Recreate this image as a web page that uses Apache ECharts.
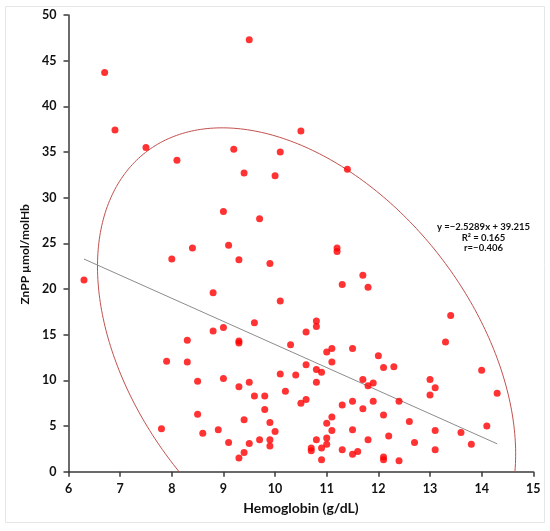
<!DOCTYPE html>
<html>
<head>
<meta charset="utf-8">
<script src="https://cdn.jsdelivr.net/npm/echarts@6/dist/echarts.min.js"></script>
<style>
  html, body { margin: 0; padding: 0; background: #fff; }
  #chart { width: 550px; height: 531px; }
</style>
</head>
<body>
<div id="chart"></div>
<script>
// hemoglobin (g/dL) and ZnPP (µmol/molHb), one entry per subject
const hemoglobin = [
  9.5, 6.7, 6.9, 7.5, 8.1, 9.2, 9.4, 10.0, 10.1, 9.0, 9.7, 8.4, 9.1, 8.0, 9.3,
  10.5, 11.4, 11.2, 11.2, 6.3, 9.9, 8.8, 10.1, 9.6, 8.8, 9.0, 8.3, 9.3, 9.3,
  7.9, 8.3, 10.1, 8.5, 9.0, 9.3, 9.5, 9.6, 9.8, 9.8, 9.4, 9.9, 10.0, 7.8, 8.6,
  8.9, 9.1, 9.5, 9.7, 9.9, 9.9, 9.4, 9.3, 8.5,
  11.7, 11.3, 11.8, 13.4, 10.8, 10.8, 10.6, 13.3, 10.3, 11.0, 11.1, 11.5, 12.0,
  10.6, 11.1, 10.8, 10.9, 10.4, 12.1, 12.3, 14.0, 10.8, 11.7, 11.8, 11.9, 13.0,
  13.1, 13.0, 14.3, 10.2, 10.6, 10.5, 11.3, 11.5, 11.9, 12.4, 11.7, 12.1, 11.1,
  11.0, 12.6, 14.1, 11.1, 11.5, 13.1, 13.6, 10.8, 11.0, 11.0, 10.9, 10.7, 10.7,
  11.8, 12.2, 12.7, 13.8, 11.3, 13.1, 11.6, 11.5, 12.1, 12.1, 10.9, 12.4
];
const znpp = [
  47.3, 43.7, 37.4, 35.5, 34.1, 35.3, 32.7, 32.4, 35.0, 28.5, 27.7, 24.5, 24.8, 23.3, 23.2,
  37.3, 33.1, 24.5, 24.1, 21.0, 22.8, 19.6, 18.7, 16.3, 15.4, 15.8, 14.4, 14.3, 14.1,
  12.1, 12.0, 10.7, 9.9, 10.2, 9.3, 9.8, 8.3, 8.3, 6.8, 5.7, 5.4, 4.4, 4.7, 4.2,
  4.6, 3.2, 3.1, 3.5, 3.5, 2.8, 2.1, 1.5, 6.3,
  21.5, 20.5, 20.2, 17.1, 16.5, 15.9, 15.3, 14.2, 13.9, 13.1, 13.5, 13.5, 12.7,
  11.7, 12.0, 11.2, 10.9, 10.6, 11.4, 11.5, 11.1, 9.8, 10.1, 9.4, 9.7, 10.1,
  9.2, 8.4, 8.6, 8.8, 7.9, 7.5, 7.3, 7.7, 7.7, 7.7, 6.9, 6.2, 6.0,
  5.3, 5.5, 5.0, 4.5, 4.6, 4.5, 4.3, 3.5, 3.7, 3.0, 2.6, 2.6, 2.3,
  3.5, 3.9, 3.2, 3.0, 2.4, 2.4, 2.2, 1.9, 1.6, 1.3, 1.3, 1.2
];

// linear fit shown on the chart
const slope = -2.5289;
const intercept = 39.215;
const rSquared = '0.165';
const rValue = '−0.406';
const fitRange = [6.3, 14.3];

// drawn ellipse: centre and two conjugate semi-diameters, in data units
const ellipseCenter = [10.61, 12.2];
const ellipseAxisA = [3.12, -22.75];
const ellipseAxisB = [-2.58, -11.4];

const points = hemoglobin.map((x, i) => [x, znpp[i]]);
const fitLine = fitRange.map(x => [x, slope * x + intercept]);

const ellipse = [];
for (let i = 0; i <= 360; i++) {
  const t = i * Math.PI / 180;
  ellipse.push([
    ellipseCenter[0] + ellipseAxisA[0] * Math.cos(t) + ellipseAxisB[0] * Math.sin(t),
    ellipseCenter[1] + ellipseAxisA[1] * Math.cos(t) + ellipseAxisB[1] * Math.sin(t)
  ]);
}

const font = 'Lato, "Open Sans", sans-serif';
const axisColor = '#3a3a3a';
const textColor = '#111';

const chart = echarts.init(document.getElementById('chart'));

chart.setOption({
  animation: false,
  backgroundColor: '#fff',
  grid: { left: 68.5, right: 16.7, top: 15, bottom: 59.3 },
  xAxis: {
    type: 'value',
    min: 6, max: 15, interval: 1,
    name: 'Hemoglobin (g/dL)',
    nameLocation: 'middle',
    nameGap: 30,
    nameTextStyle: { fontFamily: font, fontWeight: 'bold', fontSize: 14, color: textColor },
    axisLine: { show: true, onZero: false, lineStyle: { color: axisColor, width: 1.5 } },
    axisTick: { show: true, inside: false, length: 5, lineStyle: { color: axisColor, width: 1.5 } },
    axisLabel: { fontFamily: font, fontWeight: 'bold', fontSize: 12.5, color: textColor, margin: 11 },
    splitLine: { show: false }
  },
  yAxis: {
    type: 'value',
    min: 0, max: 50, interval: 5,
    name: 'ZnPP µmol/molHb',
    nameLocation: 'middle',
    nameGap: 30,
    nameTextStyle: {
      fontFamily: font, fontWeight: 'bold', fontSize: 12, color: textColor,
      padding: [0, 22, 0, 0]
    },
    axisLine: { show: true, onZero: false, lineStyle: { color: axisColor, width: 1.5 } },
    axisTick: { show: true, inside: false, length: 5, lineStyle: { color: axisColor, width: 1.5 } },
    axisLabel: { fontFamily: font, fontWeight: 'bold', fontSize: 12.5, color: textColor, margin: 12 },
    splitLine: { show: false }
  },
  graphic: [
    {
      type: 'rect',
      shape: { x: 5.5, y: 6.5, width: 539, height: 516 },
      style: { fill: 'none', stroke: '#e6e6e6', lineWidth: 1 },
      silent: true, z: -10
    },
    {
      type: 'text',
      x: 483.5, y: 222,
      style: {
        text: 'y =' + slope.toString().replace('-', '−') + 'x + ' + intercept + '\nR² = ' + rSquared + '\nr=' + rValue,
        textAlign: 'center',
        textVerticalAlign: 'top',
        fontFamily: font, fontWeight: 'bold', fontSize: 9.5, lineHeight: 10.5,
        fill: textColor
      }
    }
  ],
  series: [
    {
      type: 'line',
      data: ellipse,
      showSymbol: false,
      clip: true,
      silent: true,
      lineStyle: { color: '#c0504d', width: 1 },
      z: 1
    },
    {
      type: 'line',
      data: fitLine,
      showSymbol: false,
      silent: true,
      lineStyle: { color: '#8c8c8c', width: 1 },
      z: 2
    },
    {
      type: 'scatter',
      data: points,
      symbolSize: 7,
      itemStyle: { color: '#ff0000' },
      z: 3
    }
  ]
});
</script>
</body>
</html>
